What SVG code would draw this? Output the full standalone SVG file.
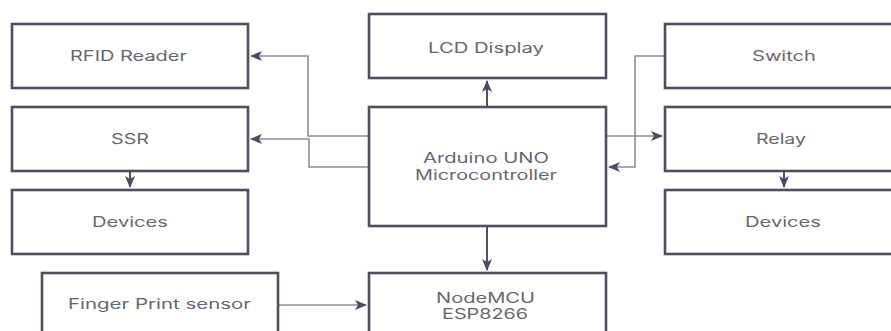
<svg xmlns="http://www.w3.org/2000/svg" width="891" height="331" viewBox="0 0 891 331">
<style>
.box{fill:#fff;stroke:#4b4f5e;stroke-width:2.6}
.t{font-family:Inter,Roboto,"Liberation Sans",sans-serif;font-size:14px;fill:#66686f}
.c{fill:none;stroke:#8c8f99;stroke-width:1.6}
.d{fill:none;stroke:#4e5262;stroke-width:2}
</style>
<defs>
<marker id="ah" viewBox="0 0 12 10" refX="11" refY="5" markerWidth="12" markerHeight="10" markerUnits="userSpaceOnUse" orient="auto">
<path d="M0,0 L12,5 L0,10 L3,5 Z" fill="#4a4e62"/>
</marker>
</defs>
<rect width="891" height="331" fill="#fff"/>
<g id="connectors">
<path class="c" d="M368,136 H308 V56 H251" marker-end="url(#ah)"/>
<path class="c" d="M368,167 H309 V139 H251" marker-end="url(#ah)"/>
<path class="c" d="M664,56 H635 V167 H609" marker-end="url(#ah)"/>
<path class="c" d="M607,136 H662" marker-end="url(#ah)"/>
<path class="d" d="M487,106 V81" marker-end="url(#ah)"/>
<path class="d" d="M487,227 V270" marker-end="url(#ah)"/>
<path class="d" d="M130,172 V187" marker-end="url(#ah)"/>
<path class="d" d="M784,172 V187" marker-end="url(#ah)"/>
<path class="c" d="M279,305 H366" marker-end="url(#ah)"/>
</g>
<g id="rfid"><rect class="box" x="12" y="24" width="236" height="64"/><text class="t" x="70" y="60.5" textLength="117" lengthAdjust="spacingAndGlyphs">RFID Reader</text></g>
<g id="ssr"><rect class="box" x="12" y="107" width="236" height="64"/><text class="t" x="111" y="144" textLength="38" lengthAdjust="spacingAndGlyphs">SSR</text></g>
<g id="devices-left"><rect class="box" x="12" y="190" width="236" height="64"/><text class="t" x="92" y="227" textLength="76" lengthAdjust="spacingAndGlyphs">Devices</text></g>
<g id="fingerprint"><rect class="box" x="42" y="273" width="236" height="70"/><text class="t" x="68" y="309" textLength="183" lengthAdjust="spacingAndGlyphs">Finger Print sensor</text></g>
<g id="lcd"><rect class="box" x="369" y="14" width="237" height="64"/><text class="t" x="428" y="53" textLength="116" lengthAdjust="spacingAndGlyphs">LCD Display</text></g>
<g id="arduino"><rect class="box" x="369" y="107" width="237" height="119"/><text class="t" x="423" y="163" textLength="126" lengthAdjust="spacingAndGlyphs">Arduino UNO</text><text class="t" x="415" y="179.5" textLength="142" lengthAdjust="spacingAndGlyphs">Microcontroller</text></g>
<g id="nodemcu"><rect class="box" x="369" y="273" width="237" height="70"/><text class="t" x="436" y="302.5" textLength="99" lengthAdjust="spacingAndGlyphs">NodeMCU</text><text class="t" x="442" y="318.5" textLength="86" lengthAdjust="spacingAndGlyphs">ESP8266</text></g>
<g id="switch"><rect class="box" x="665" y="24" width="240" height="64"/><text class="t" x="752" y="61" textLength="64" lengthAdjust="spacingAndGlyphs">Switch</text></g>
<g id="relay"><rect class="box" x="665" y="107" width="240" height="64"/><text class="t" x="756" y="143.5" textLength="50" lengthAdjust="spacingAndGlyphs">Relay</text></g>
<g id="devices-right"><rect class="box" x="665" y="190" width="240" height="64"/><text class="t" x="745" y="227" textLength="76" lengthAdjust="spacingAndGlyphs">Devices</text></g>
</svg>
